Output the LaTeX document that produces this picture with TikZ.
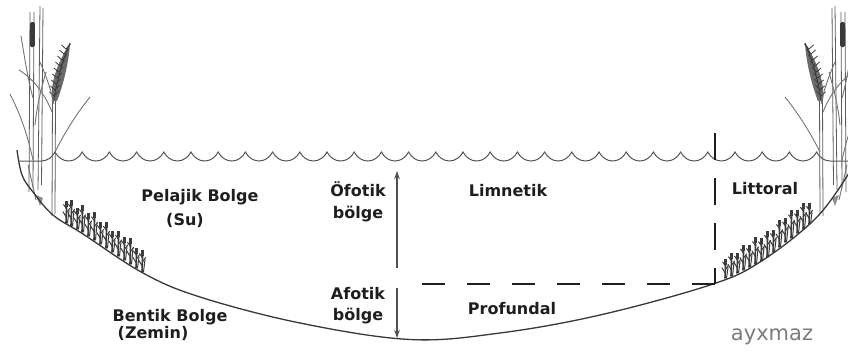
\documentclass[tikz,border=0pt]{standalone}
\usepackage{fontspec}
\setmainfont{DejaVu Sans}
\usetikzlibrary{arrows.meta}
\definecolor{ink}{HTML}{1E1E1E}
\definecolor{shore}{HTML}{383838}
\definecolor{reedc}{HTML}{5C5C5C}
\definecolor{plumec}{HTML}{3A3A3A}
\definecolor{weedc}{HTML}{3C3C3C}
\definecolor{markc}{HTML}{7C7C7C}
\definecolor{arrowc}{HTML}{505050}

\tikzset{
  reedclump/.pic={
    % cattail stalks with their heads
    \draw[reedstalk] (29,192) -- (30,12);
    \draw[reedstalk] (33,188) -- (34,12);
    \fill[plumec, rounded corners=1.5pt] (30,22) rectangle (34.8,47);
    \draw[reedstalk] (38,190) -- (40,6);
    \draw[reedstalk] (41.5,185) -- (43,8);
    % plume-bearing reed
    \draw[reedstalk] (52,216) -- (52.5,98);
    \draw[reedstalk] (55,214) -- (55.5,100);
    \fill[plumec!75] (52,101) .. controls (50,82) and (58,62) .. (70,43)
                 .. controls (69,62) and (63,86) .. (57,101) -- cycle;
    \draw[plumec, line width=0.9pt] (54,100) .. controls (57,80) and (62,62) .. (70,43);
    \foreach \a/\b in {54/96, 55/90, 56/84, 57/78, 58.5/72, 60/66, 62/60, 64/54, 66/49}{
      \draw[plumec, line width=0.8pt] (\a,\b) -- ++(-4.5,-4);
      \draw[plumec, line width=0.8pt] (\a,\b) -- ++(4.5,-5);
    }
    % leaves
    \draw[reedleaf] (33,160) .. controls (26,128) and (18,110) .. (10,94);
    \draw[reedleaf] (55,152) .. controls (66,130) and (78,112) .. (90,97);
    \draw[reedleaf] (21,36) .. controls (25,60) and (28,80) .. (33,98);
    \draw[reedleaf] (19,70) .. controls (32,78) and (44,92) .. (52,112);
    \draw[reedleaf] (46,72) .. controls (41,90) and (37,105) .. (35,125);
    \draw[reedleaf] (40,62) .. controls (47,78) and (51,90) .. (54,104);
    \draw[reedleaf] (28,165) -- (36,200);
    \fill[reedc!70] (36,195) -- (43,198) -- (40,206) -- cycle;
  },
  zonelabel/.style={font=\bfseries\fontsize{16}{18}\selectfont, text=ink,
    anchor=base, inner sep=0pt},
  signlabel/.style={font=\fontsize{21}{24}\selectfont, text=markc,
    anchor=base, inner sep=0pt},
  bowlline/.style={draw=shore, line width=1.3pt},
  waveline/.style={draw=shore!85, line width=1pt},
  zoneedge/.style={draw=ink, line width=1.8pt},
  deptharrow/.style={draw=arrowc, line width=1.2pt,
    -{Stealth[length=8pt,width=5.5pt]}},
  reedstalk/.style={draw=reedc, line width=0.8pt},
  reedleaf/.style={draw=reedc!85, line width=0.9pt},
  weedstroke/.style={draw=weedc, line width=1.6pt, line cap=round},
  weedleaf/.style={draw=weedc, line width=1pt, line cap=round},
}

\begin{document}
\begin{tikzpicture}[x=1pt,y=-1pt]
\fill[white] (0,0) rectangle (848,351);
\useasboundingbox (0,0) rectangle (848,351);

% shoreline vegetation on both banks
\pic at (0,0) {reedclump};
\pic[xscale=-1] at (875,0) {reedclump};

% submerged plants on the slopes
\foreach \x/\y/\h in {66/223/18, 71/226/22, 77/229/17, 82/232/23, 88/236/19,
    94/240/24, 100/244/18, 106/248/22, 112/252/17, 118/256/21, 124/260/19,
    130/264/22, 136/268/16, 142/272/18,
    725/278/15, 731/276/19, 737/273/16, 743/270/21, 749/267/18, 755/264/23,
    761/261/19, 767/257/22, 773/252/18, 779/247/23, 785/242/20, 791/238/24,
    797/233/19, 803/229/22, 809/224/17}{
  \draw[weedstroke] (\x,\y) -- ++(0.6,-\h);
  \draw[weedleaf] (\x+1.5,\y) -- ++(1.5,{-0.7*\h});
  \draw[weedleaf] (\x,{\y-0.35*\h}) -- ++(-3,-5);
  \draw[weedleaf] (\x+0.3,{\y-0.55*\h}) -- ++(3.2,-4.5);
  \draw[weedleaf] (\x+0.4,{\y-0.8*\h}) -- ++(-2.8,-4);
  \fill[weedc] (\x-1.4,{\y-\h+2}) rectangle ++(3.2,-6);
}

% lake bed
\draw[bowlline] plot[smooth, tension=0.6] coordinates {(17,150) (22,175)
  (33,192) (53,215) (83,234) (143,273) (200,297) (300,323) (410,339.5)
  (500,333) (600,315) (710,285) (760,262) (817,217) (852,168)};

% water surface
\draw[waveline] (18,161) -- (41.4,161) .. controls (47,161) and (52.2,157.5) .. (55,152)
  foreach \i in {0,...,27}{
    .. controls ({55+27.2*\i+2.8},157.5) and ({55+27.2*\i+8},161) .. ({55+27.2*\i+13.6},161)
    .. controls ({55+27.2*\i+19.2},161) and ({55+27.2*\i+24.4},157.5) .. ({55+27.2*\i+27.2},152)
  }
  .. controls (819.4,157.5) and (824.6,161) .. (830.2,161) -- (848,161);

% zone boundaries
\coordinate (vtop) at (715,133);
\coordinate (corner) at (715,284);
\coordinate (hleft) at (422,284);
\draw[zoneedge, dash pattern=on 27pt off 18pt] (vtop) -- (corner);
\draw[zoneedge, dash pattern=on 23pt off 22pt] (hleft) -- (corner);

% light zones
\coordinate (eubot) at (397,268);
\coordinate (eutop) at (397,171);
\coordinate (aptop) at (397,288);
\coordinate (apbot) at (397,338);
\draw[deptharrow] (eubot) -- (eutop);
\draw[deptharrow] (aptop) -- (apbot);

% labels
\node[zonelabel] (pel) at (200,201) {Pelajik Bolge};
\node[zonelabel] (su)  at (185,225.5) {(Su)};
\node[zonelabel] (ben) at (170,321) {Bentik Bolge};
\node[zonelabel] (zem) at (153,338.5) {(Zemin)};
\node[zonelabel] (ofo) at (358,196) {Öfotik};
\node[zonelabel] (ofb) at (358,218.5) {bölge};
\node[zonelabel] (afo) at (358,299) {Afotik};
\node[zonelabel] (afb) at (358,320.5) {bölge};
\node[zonelabel] (lim) at (508,196) {Limnetik};
\node[zonelabel] (lit) at (765,194) {Littoral};
\node[zonelabel] (pro) at (512,314) {Profundal};
\node[signlabel] (ayx) at (772,340) {ayxmaz};
\end{tikzpicture}
\end{document}
